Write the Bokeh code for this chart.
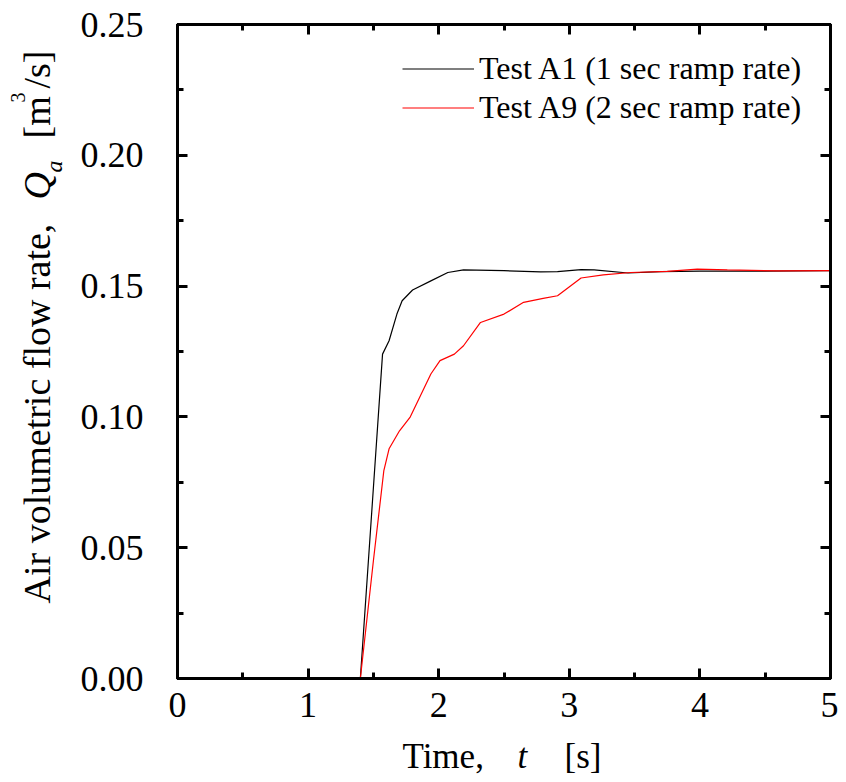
import math
from bokeh.plotting import figure
from bokeh.layouts import column, row
from bokeh.models import (LinearAxis, FixedTicker, PrintfTickFormatter, Legend, LegendItem,
                          Label, Range1d)
from bokeh.embed import file_html
from bokeh.resources import INLINE

# ---- data ----
t_a1 = [0.05, 1.40, 1.57, 1.62, 1.68, 1.72, 1.80, 1.94, 2.07, 2.19, 2.50, 2.78, 2.91, 3.09,
        3.19, 3.45, 3.70, 4.00, 4.50, 5.00]
q_a1 = [0.0, 0.0, 0.124, 0.1291, 0.1393, 0.1444, 0.1485, 0.152, 0.1552, 0.1562, 0.1559,
        0.1554, 0.1555, 0.1563, 0.1562, 0.1550, 0.1555, 0.1557, 0.1557, 0.1559]

t_a9 = [0.05, 1.40, 1.50, 1.58, 1.62, 1.70, 1.78, 1.94, 2.01, 2.12, 2.19, 2.32, 2.50, 2.65,
        2.80, 2.91, 3.09, 3.26, 3.47, 3.75, 3.98, 4.21, 4.60, 5.00]
q_a9 = [0.0, 0.0, 0.045, 0.0795, 0.0878, 0.0947, 0.0998, 0.1164, 0.1215, 0.124, 0.1272,
        0.1361, 0.1393, 0.1438, 0.1453, 0.1463, 0.1531, 0.1543, 0.1552, 0.1556, 0.1565,
        0.1562, 0.1558, 0.1559]

labels = ["Test A1 (1 sec ramp rate)", "Test A9 (2 sec ramp rate)"]
x_ticks = [0, 1, 2, 3, 4, 5]
y_ticks = [0.0, 0.05, 0.10, 0.15, 0.20, 0.25]

FONT = "Liberation Serif"

# layout geometry (pixels)
YW = 72          # width of the y-title strip
MAIN_W = 766     # main figure width
MAIN_H = 728     # main figure height
XH = 52          # height of the x-title strip
TOTAL_W = YW + MAIN_W
B_TOP, B_BOT = 24, 50

p = figure(width=MAIN_W, height=MAIN_H, output_backend="svg", toolbar_location=None,
           x_range=Range1d(0, 5), y_range=Range1d(0, 0.25), title=None,
           x_axis_location=None, y_axis_location=None,
           min_border_left=105, min_border_right=8, min_border_top=B_TOP,
           min_border_bottom=B_BOT)
p.grid.visible = False
p.outline_line_color = "black"
p.outline_line_width = 3
p.background_fill_color = "white"
p.border_fill_color = "white"

def style_axis(ax, show_labels, xaxis):
    ticks = x_ticks if xaxis else y_ticks
    ax.ticker = FixedTicker(ticks=ticks,
                            minor_ticks=[i * 0.5 for i in range(11)] if xaxis
                            else [i * 0.025 for i in range(11)])
    ax.formatter = PrintfTickFormatter(format="%d" if xaxis else "%.2f")
    ax.axis_line_width = 3
    ax.axis_line_color = "black"
    ax.major_tick_in = 10
    ax.major_tick_out = 0
    ax.minor_tick_in = 6
    ax.minor_tick_out = 0
    ax.major_tick_line_width = 3
    ax.minor_tick_line_width = 3
    ax.major_tick_line_color = "black"
    ax.minor_tick_line_color = "black"
    ax.major_label_text_font = FONT
    ax.major_label_text_color = "black"
    if show_labels:
        ax.major_label_text_font_size = "36px"
        ax.major_label_standoff = 14 if xaxis else 34
    else:
        # mirrored axis: ticks only, empty labels
        ax.major_label_overrides = {t: "" for t in ticks}
        ax.major_label_text_font_size = "1px"
        ax.major_label_standoff = 0

for loc, xaxis, show in [("below", True, True), ("above", True, False),
                         ("left", False, True), ("right", False, False)]:
    ax = LinearAxis()
    style_axis(ax, show, xaxis)
    p.add_layout(ax, loc)

r1 = p.line(t_a1, q_a1, line_color="black", line_width=1.2)
r2 = p.line(t_a9, q_a9, line_color="red", line_width=1.2)

legend = Legend(items=[LegendItem(label=labels[0], renderers=[r1]),
                       LegendItem(label=labels[1], renderers=[r2])],
                location=(225, 551), border_line_color=None, background_fill_alpha=0,
                label_text_font=FONT, label_text_font_size="32px", label_text_color="black",
                glyph_width=72, glyph_height=39, label_height=39, spacing=0,
                label_standoff=5, padding=0, margin=0)
p.add_layout(legend)

# ---- strips that carry the axis titles (coordinates = page pixels) ----
def strip(w, h, xr, yr, bt=0, bb=0):
    f = figure(width=w, height=h, output_backend="svg", toolbar_location=None, title=None,
               x_axis_location=None, y_axis_location=None,
               x_range=xr, y_range=yr,
               min_border=0, min_border_left=0, min_border_right=0,
               min_border_top=bt, min_border_bottom=bb)
    f.grid.visible = False
    f.outline_line_color = None
    f.background_fill_color = "white"
    f.border_fill_color = "white"
    return f

# y strip frame shares the main frame's vertical extent (rows align frames)
yfig = strip(YW, MAIN_H, Range1d(0, YW), Range1d(MAIN_H - B_BOT, B_TOP), B_TOP, B_BOT)
xfig = strip(TOTAL_W, XH, Range1d(0, TOTAL_W), Range1d(MAIN_H + XH, MAIN_H))

def lab(f, text, x, y, size, style="normal", angle=0.0):
    f.add_layout(Label(x=x, y=y, text=text, text_font=FONT, text_font_size=size,
                       text_font_style=style, text_color="black", angle=angle,
                       text_align="left", text_baseline="alphabetic"))

# x title
lab(xfig, "Time,", 402, 756, "35px")
lab(xfig, "t", 517, 756, "35px", "italic")
lab(xfig, "[s]", 564, 756, "35px")

# y title (rotated)
A = math.pi / 2
lab(yfig, "Air volumetric flow rate,", 36, 603, "38px", angle=A)
lab(yfig, "Q", 36, 199, "38px", "italic", angle=A)
lab(yfig, "a", 53, 172, "24px", "italic", angle=A)
lab(yfig, "[m", 36, 138, "38px", angle=A)
lab(yfig, "3", 17, 102, "20px", angle=A)
lab(yfig, "/s]", 36, 88, "38px", angle=A)

layout = column(row(yfig, p, spacing=0), xfig, spacing=0)

open("out.html", "w").write(file_html(layout, INLINE))
